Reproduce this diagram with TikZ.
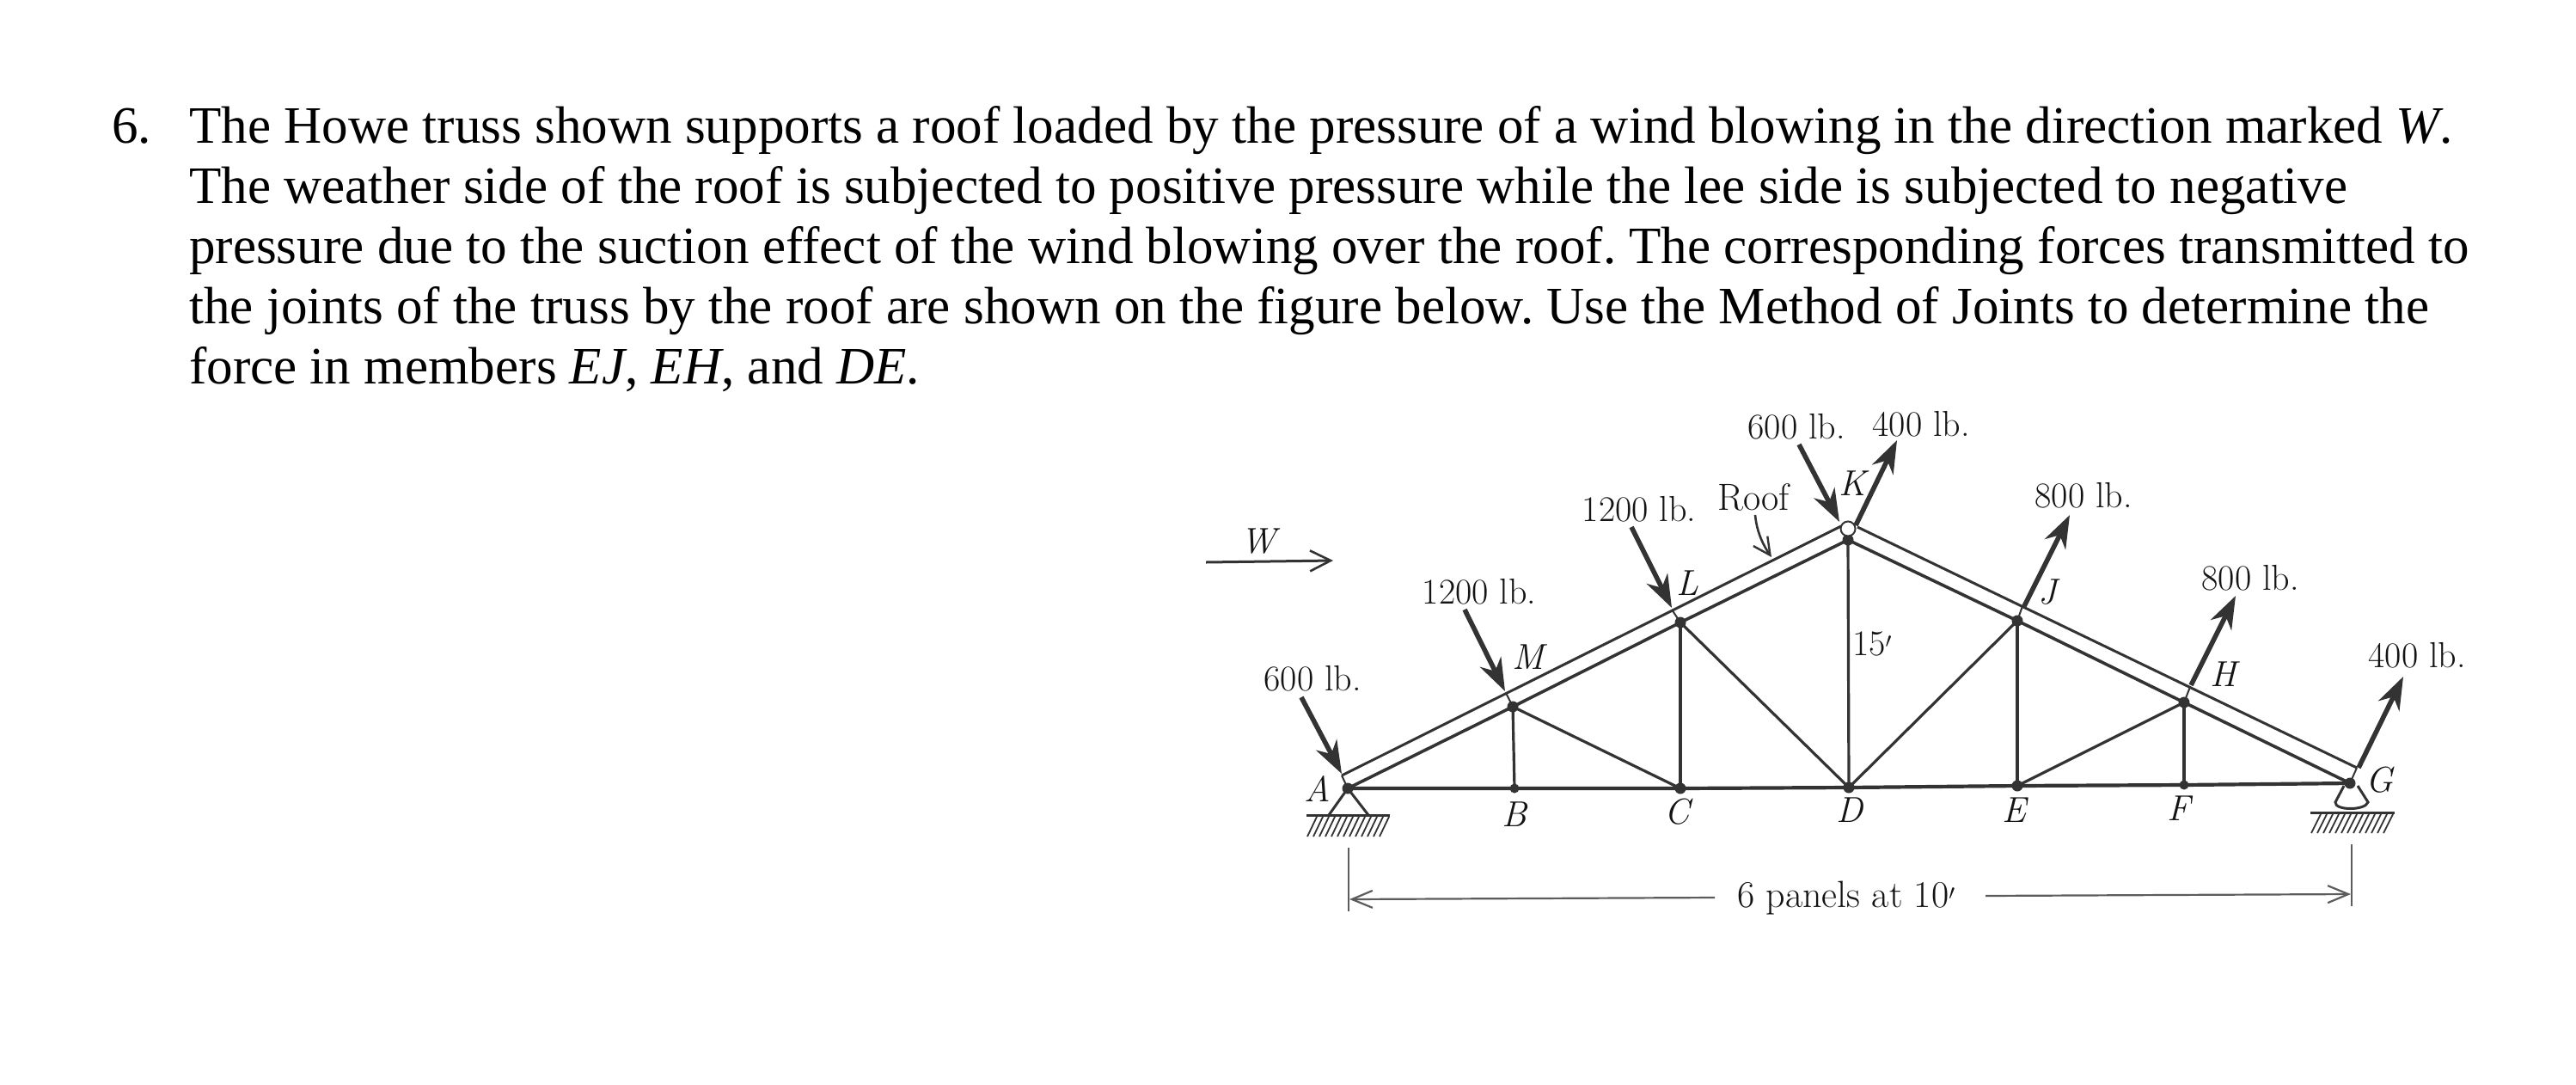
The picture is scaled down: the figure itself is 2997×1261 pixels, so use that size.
\documentclass[tikz,border=0pt]{standalone}
\usepackage{fontspec}
\usetikzlibrary{arrows.meta}
\newfontfamily\bodyfont{Liberation Serif}
\definecolor{ink}{HTML}{333333}
\definecolor{labink}{HTML}{141414}
\frenchspacing
\tikzset{
  para/.style={anchor=base west,inner sep=0pt,font=\bodyfont\fontsize{61.1}{70}\selectfont\frenchspacing,text=black},
  lab/.style={inner sep=0pt,text=labink,font=\fontsize{42}{44}\selectfont},
  dimlab/.style={inner sep=0pt,text=labink,font=\fontsize{44}{46}\selectfont},
  pt/.style={inner sep=0pt,text=labink,font=\fontsize{42}{44}\selectfont\itshape},
  chord/.style={draw=ink,line width=3.6pt},
  roofline/.style={draw=ink,line width=3pt},
  web/.style={draw=ink,line width=3.2pt},
  bottomchord/.style={draw=ink,line width=4.2pt},
  force/.style={draw=ink,line width=5.6pt,-{Stealth[length=38pt,width=27pt,inset=12pt]}},
  thinarrow/.style={draw=ink,line width=2.6pt,-{Straight Barb[length=20pt,width=20pt,line width=2.4pt]}},
  dimline/.style={draw=ink!80,line width=2pt},
  dimarrow/.style={draw=ink!80,line width=2.2pt,-{Straight Barb[length=24pt,width=20pt,line width=2.2pt]}},
  joint/.style={circle,fill=ink,inner sep=0pt,minimum size=13pt},
  base/.style={draw=ink,line width=3pt},
  hatchline/.style={draw=ink,line width=1.8pt},
}
\begin{document}
\begin{tikzpicture}[x=1pt,y=-1pt]
\useasboundingbox (0,0) rectangle (2997,1261);
\fill[white] (0,0) rectangle (2997,1261);
% paragraph
\node[para] (num) at (130,166) {6.};
\node[para] (l1) at (220,166) {The Howe truss shown supports a roof loaded by the pressure of a wind blowing in the direction marked \textit{W}.};
\node[para] (l2) at (220,236) {The weather side of the roof is subjected to positive pressure while the lee side is subjected to negative};
\node[para] (l3) at (220,306) {pressure due to the suction effect of the wind blowing over the roof. The corresponding forces transmitted to};
\node[para] (l4) at (220,376) {the joints of the truss by the roof are shown on the figure below. Use the Method of Joints to determine the};
\node[para] (l5) at (220,446) {force in members \textit{EJ}, \textit{EH}, and \textit{DE}.};
% joints
\coordinate (A) at (1568,917); \coordinate (B) at (1762,917); \coordinate (C) at (1955,917);
\coordinate (D) at (2151,916); \coordinate (E) at (2347,914); \coordinate (F) at (2541,913);
\coordinate (G) at (2734,911);
\coordinate (M) at (1760,822); \coordinate (L) at (1955,724); \coordinate (K) at (2150,628);
\coordinate (J) at (2347,722); \coordinate (H) at (2541,817);
\coordinate (uA) at (1561,902); \coordinate (uM) at (1752,806); \coordinate (uL) at (1945,709);
\coordinate (uK) at (2142,612); \coordinate (uKr) at (2161,613); \coordinate (uJ) at (2353,705);
\coordinate (uH) at (2548,799); \coordinate (uG) at (2742,893);
% members
\draw[bottomchord] (A) -- (B) -- (C) -- (D) -- (E) -- (F) -- (G);
\draw[chord] (A) -- (M) -- (L) -- (K) -- (J) -- (H) -- (G);
\draw[roofline] (uA) -- (uK);
\draw[roofline] (uKr) -- (uG);
\draw[web] (M) -- (B);
\draw[web] (M) -- (C);
\draw[web] (L) -- (C);
\draw[web] (L) -- (D);
\draw[web] (K) -- (D);
\draw[web] (J) -- (D);
\draw[web] (J) -- (E);
\draw[web] (H) -- (E);
\draw[web] (H) -- (F);
\foreach \p/\q in {A/uA,M/uM,L/uL,J/uJ,H/uH,G/uG}{\draw[draw=ink,line width=2pt] (\p) -- (\q);}
% joint dots
\foreach \p in {A,C,D,E,G,M,L,K,J,H}{\node[joint] (dot\p) at (\p) {};}
\foreach \p in {B,F}{\node[joint,minimum size=11pt] (dot\p) at (\p) {};}
\node[circle,draw=ink,fill=white,line width=2pt,inner sep=0pt,minimum size=17pt] (pin) at (2150,615) {};
% supports
\coordinate (lb1) at (1546,948); \coordinate (lb2) at (1592,948);
\draw[base] (lb1) -- (A) -- (lb2);
\draw[base] (1520,948) -- (1617,948);
\foreach \x in {1521,1528,...,1606}{\draw[hatchline] (\x,973) -- (\x+11,950);}
\draw[base] (2727,914) -- (2717,933) .. controls (2716,943) and (2752,943) .. (2755,933) -- (2743,914);
\draw[base] (2688,945) -- (2786,945);
\foreach \x in {2689,2696,...,2776}{\draw[hatchline] (\x,969) -- (\x+11,947);}
% force labels and arrows
\node[lab] (f1) at (1527,789) {600 lb.};
\node[lab] (f2) at (1721,688) {1200 lb.};
\node[lab] (f3) at (1907,592) {1200 lb.};
\node[lab] (f4) at (2090,496) {600 lb.};
\node[lab] (f5) at (2235,493) {400 lb.};
\node[lab] (f6) at (2424,576) {800 lb.};
\node[lab] (f7) at (2618,672) {800 lb.};
\node[lab] (f8) at (2812,762) {400 lb.};
\coordinate (s1) at (1514,811); \coordinate (t1) at (1561,900);
\coordinate (s2) at (1704,709); \coordinate (t2) at (1751,804);
\coordinate (s3) at (1898,613); \coordinate (t3) at (1945,707);
\coordinate (s4) at (2093,517); \coordinate (t4) at (2140,607);
\coordinate (s5) at (2159,611); \coordinate (t5) at (2207,512);
\coordinate (s6) at (2355,705); \coordinate (t6) at (2408,599);
\coordinate (s7) at (2549,797); \coordinate (t7) at (2601,693);
\coordinate (s8) at (2744,893); \coordinate (t8) at (2796,787);
\foreach \i in {1,...,8}{\draw[force] (s\i) -- (t\i);}
% point labels
\node[pt] (nA) at (1533,917) {A};
\node[pt] (nB) at (1762,947) {B};
\node[pt] (nC) at (1951,944) {C};
\node[pt] (nD) at (2152,942) {D};
\node[pt] (nE) at (2343,942) {E};
\node[pt] (nF) at (2535,940) {F};
\node[pt] (nG) at (2768,907) {G};
\node[pt] (nH) at (2587,784) {H};
\node[pt] (nJ) at (2382,689) {J};
\node[pt] (nK) at (2155,562) {K};
\node[pt] (nL) at (1963,678) {L};
\node[pt] (nM) at (1778,764) {M};
\node[lab] (n15) at (2178,749) {15$'$};
% roof
\node[lab,font=\fontsize{44}{46}\selectfont] (roof) at (2040,578) {Roof};
\coordinate (rs) at (2042,599); \coordinate (rt) at (2061,648);
\draw[thinarrow] (rs) .. controls (2044,620) and (2052,635) .. (rt);
% wind
\node[pt] (w) at (1464,630) {W};
\coordinate (ws) at (1403,654); \coordinate (wt) at (1551,652);
\draw[draw=ink,line width=3pt,-{Straight Barb[length=24pt,width=24pt,line width=2.6pt]}] (ws) -- (wt);
% dimension
\node[dimlab] (dim) at (2148,1045) {6 panels at 10$'$};
\coordinate (dl1) at (1569,986); \coordinate (dl2) at (1569,1060);
\coordinate (dr1) at (2736,982); \coordinate (dr2) at (2736,1054);
\draw[dimline] (dl1) -- (dl2);
\draw[dimline] (dr1) -- (dr2);
\coordinate (da) at (1995,1044); \coordinate (dat) at (1570,1046);
\coordinate (db) at (2310,1042); \coordinate (dbt) at (2735,1040);
\draw[dimarrow] (da) -- (dat);
\draw[dimarrow] (db) -- (dbt);
\end{tikzpicture}
\end{document}
